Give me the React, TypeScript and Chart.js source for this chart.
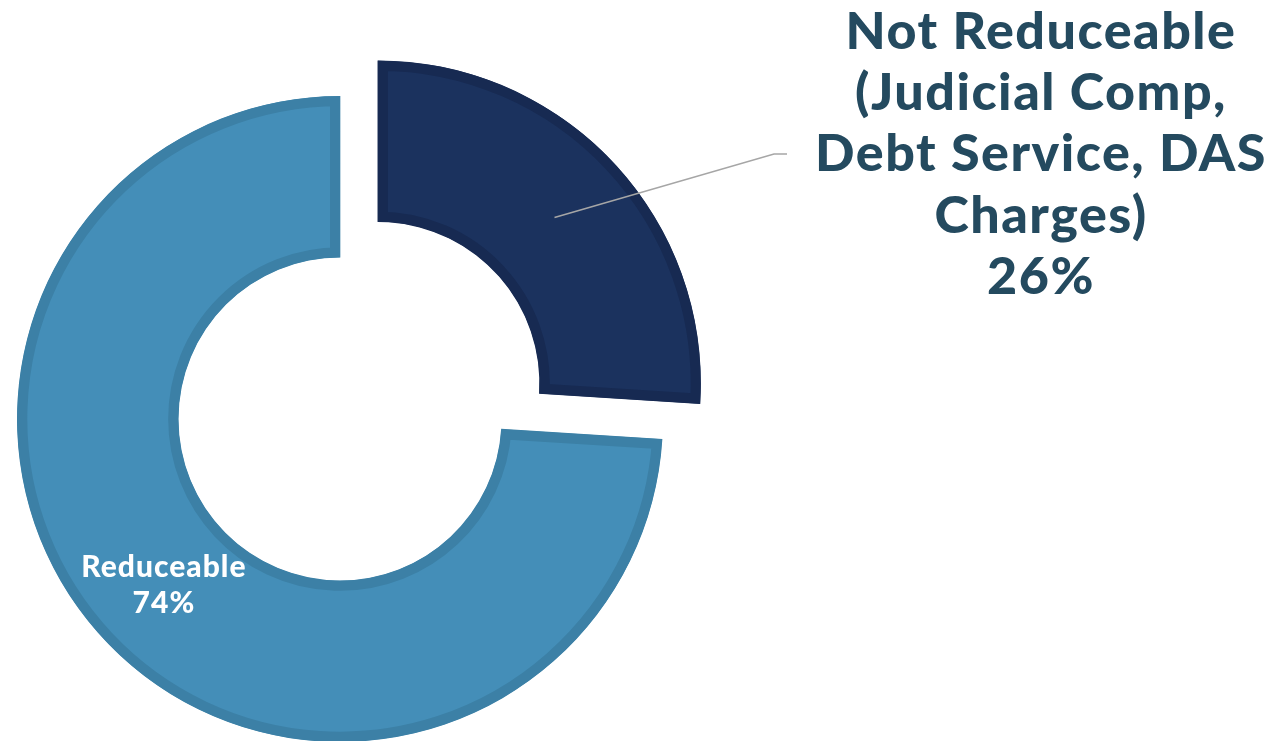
import React, { useEffect, useRef } from "react";
import { Chart, registerables } from "chart.js";

Chart.register(...registerables);

const categories = ["Not Reduceable", "Reduceable"];
const values = [26, 74];
const outsideLabelLines = ["Not Reduceable", "(Judicial Comp,", "Debt Service, DAS", "Charges)", "26%"];
const insideLabelLines = ["Reduceable", "74%"];
const fillColors = ["#1B325E", "#448EB8"];
const borderColors = ["#172A52", "#3C80A6"];
const sliceOffsets = [208, 0];

const OUTER_TEXT_COLOR = "#244A5F";
const LEADER_COLOR = "#A6A6A6";

function centroid(arc: any, offsetPx: number) {
  const p = arc.getProps(["x", "y", "startAngle", "endAngle", "innerRadius", "outerRadius"], true);
  const mid = (p.startAngle + p.endAngle) / 2;
  const r = (p.innerRadius + p.outerRadius) / 2;
  const ox = Math.cos(mid) * offsetPx;
  const oy = Math.sin(mid) * offsetPx;
  return { x: p.x + ox + Math.cos(mid) * r, y: p.y + oy + Math.sin(mid) * r };
}

const labelPlugin = {
  id: "sliceLabels",
  afterDatasetsDraw(chart: any) {
    const ctx: any = chart.ctx;
    const meta = chart.getDatasetMeta(0);
    ctx.save();

    // inside label (Reduceable)
    const c1 = centroid(meta.data[1], sliceOffsets[1] / 4);
    ctx.fillStyle = "#FFFFFF";
    ctx.font = "900 30px Lato";
    ctx.letterSpacing = "1px";
    ctx.textAlign = "center";
    ctx.textBaseline = "alphabetic";
    ctx.fillText(insideLabelLines[0], c1.x + 0.5, c1.y - 8);
    ctx.fillText(insideLabelLines[1], c1.x + 0.5, c1.y + 28);

    // leader line for Not Reduceable
    const c0 = centroid(meta.data[0], sliceOffsets[0] / 4);
    ctx.strokeStyle = LEADER_COLOR;
    ctx.lineWidth = 1.5;
    ctx.beginPath();
    ctx.moveTo(c0.x, c0.y);
    ctx.lineTo(774, 154);
    ctx.lineTo(787, 154);
    ctx.stroke();

    // outside label block
    ctx.fillStyle = OUTER_TEXT_COLOR;
    ctx.font = "900 52px Lato";
    ctx.letterSpacing = "1.5px";
    ctx.textAlign = "center";
    const cx = 1041;
    const firstBaseline = 49;
    const step = 61.2;
    outsideLabelLines.forEach((line, i) => {
      ctx.fillText(line, cx, firstBaseline + i * step);
    });
    ctx.restore();
  },
};

export default function App() {
  const canvasRef = useRef<HTMLCanvasElement | null>(null);

  useEffect(() => {
    if (!canvasRef.current) return;
    const chart = new Chart(canvasRef.current, {
      type: "doughnut",
      data: {
        labels: categories,
        datasets: [
          {
            data: values,
            backgroundColor: fillColors,
            borderColor: borderColors,
            borderWidth: 10,
            borderAlign: "inner",
            offset: sliceOffsets,
          } as any,
        ],
      },
      options: {
        responsive: false,
        animation: false,
        events: [],
        cutout: "50%",
        radius: 323,
        rotation: 0,
        layout: { padding: { top: 97, bottom: 0, left: 0, right: 604 } },
        plugins: {
          legend: { display: false },
          tooltip: { enabled: false },
          title: { display: false },
        },
      } as any,
      plugins: [labelPlugin],
    });
    return () => chart.destroy();
  }, []);

  return (
    <div style={{ position: "fixed", left: 0, top: 0, width: 1284, height: 741, overflow: "hidden", background: "#FFFFFF" }}>
      <canvas ref={canvasRef} width={1284} height={741} style={{ display: "block" }} />
    </div>
  );
}
